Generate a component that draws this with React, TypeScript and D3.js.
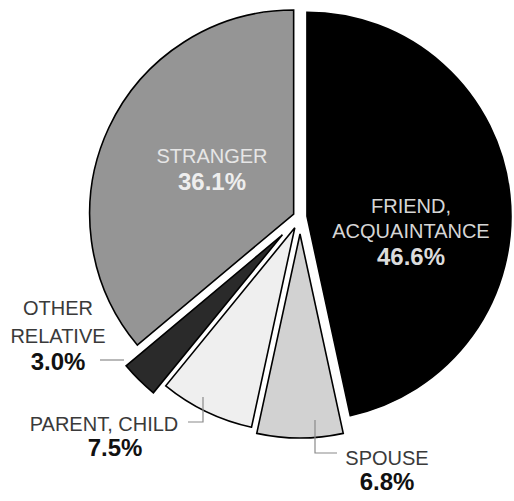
import React from "react";
import * as d3 from "d3";

// ---- data ----
const categories = ["FRIEND, ACQUAINTANCE", "SPOUSE", "PARENT, CHILD", "OTHER RELATIVE", "STRANGER"];
const values = [46.6, 6.8, 7.5, 3.0, 36.1];
const nameLines = [["FRIEND,", "ACQUAINTANCE"], ["SPOUSE"], ["PARENT, CHILD"], ["OTHER", "RELATIVE"], ["STRANGER"]];
const valueLabels = ["46.6%", "6.8%", "7.5%", "3.0%", "36.1%"];

// ---- style / layout ----
const W = 514;
const H = 501;
const CX = 300;
const CY = 217;
const R = 204;
const fills = ["#000000", "#d2d2d2", "#efefef", "#2a2a2a", "#959595"];
const explode = [7, 17, 12, 25, 7];
const FONT = "'Liberation Sans', Arial, Helvetica, sans-serif";

// label layout: x center, baselines of name lines, baseline of value, colours
const labelLayout = [
  { x: 411, names: [213, 238], value: 265, nameColor: "#d6d6d6", valueColor: "#dcdcdc" },
  { x: 387, names: [465], value: 490, nameColor: "#3a3a3a", valueColor: "#111" },
  { x: 104, names: [431], value: 456, nameColor: "#3a3a3a", valueColor: "#111", valueX: 115 },
  { x: 58, names: [315, 343], value: 370, nameColor: "#3a3a3a", valueColor: "#111" },
  { x: 212, names: [163], value: 190, nameColor: "#e6e6e6", valueColor: "#eeeeee" },
];

const leaders: [number, number][][] = [
  [],
  [[315, 420], [315, 453], [337, 453]],
  [[203, 397], [203, 422], [188, 422]],
  [[124, 360], [100, 360]],
  [],
];

export default function App() {
  const pie = d3
    .pie<number>()
    .sort(null)
    .value((d) => d)
    .startAngle(0)
    .endAngle(2 * Math.PI);
  const arcs = pie(values);
  const arc = d3.arc<d3.PieArcDatum<number>>().innerRadius(0).outerRadius(R);
  const line = d3.line();

  return (
    <div style={{ position: "absolute", left: 0, top: 0 }}>
      <svg width={W} height={H} style={{ display: "block", background: "#fff" }}>
        {arcs.map((a, i) => {
          const mid = (a.startAngle + a.endAngle) / 2;
          const dx = Math.sin(mid) * explode[i];
          const dy = -Math.cos(mid) * explode[i];
          return (
            <path
              key={categories[i]}
              d={arc(a) || ""}
              transform={`translate(${CX + dx},${CY + dy})`}
              fill={fills[i]}
              stroke="#000"
              strokeWidth={1.6}
              strokeLinejoin="miter"
            />
          );
        })}
        {leaders.map((pts, i) =>
          pts.length ? (
            <path key={"l" + i} d={line(pts) || ""} fill="none" stroke="#8a8a8a" strokeWidth={1.2} />
          ) : null
        )}
        {categories.map((c, i) => {
          const L = labelLayout[i];
          return (
            <g key={"t" + c} fontFamily={FONT} textAnchor="middle">
              {nameLines[i].map((t, j) => (
                <text key={j} x={L.x} y={L.names[j]} fontSize={20} fill={L.nameColor}>
                  {t}
                </text>
              ))}
              <text x={(L as any).valueX ?? L.x} y={L.value} fontSize={24} fontWeight="bold" fill={L.valueColor}>
                {valueLabels[i]}
              </text>
            </g>
          );
        })}
      </svg>
    </div>
  );
}
